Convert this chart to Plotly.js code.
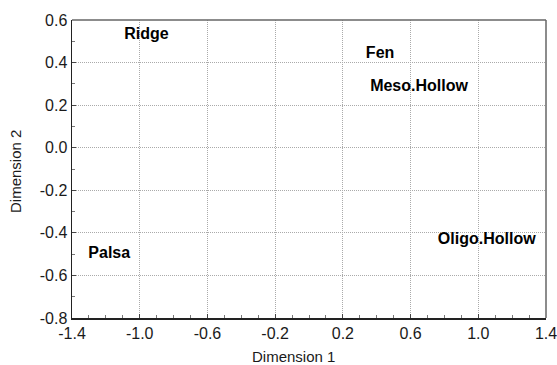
<!DOCTYPE html>
<html>
<head>
<meta charset="utf-8">
<script src="https://cdn.plot.ly/plotly-3.0.1.min.js"></script>
<style>html,body{margin:0;padding:0;background:#fff;}#chart{width:557px;height:365px;}</style>
</head>
<body>
<div id="chart"></div>
<script>
const sites = ["Ridge", "Fen", "Meso.Hollow", "Palsa", "Oligo.Hollow"];
const dim1 = [-0.96, 0.42, 0.65, -1.18, 1.05];
const dim2 = [0.53, 0.44, 0.285, -0.50, -0.435];
const xTicks = [-1.4, -1.0, -0.6, -0.2, 0.2, 0.6, 1.0, 1.4];
const yTicks = [-0.8, -0.6, -0.4, -0.2, 0.0, 0.2, 0.4, 0.6];
const xTitle = "Dimension 1";
const yTitle = "Dimension 2";

const FONT = 'Liberation Sans, Arial, sans-serif';

const trace = {
  x: dim1, y: dim2, text: sites, type: 'scatter', mode: 'text',
  textposition: 'middle center',
  textfont: {family: FONT, size: 16, color: '#000', weight: 'bold'},
  hoverinfo: 'none', cliponaxis: false
};

const axisCommon = {
  showgrid: true, gridcolor: '#aaaaaa', griddash: '1px,1px', gridwidth: 1,
  zeroline: false, showline: true, linecolor: '#222', linewidth: 1.5,
  ticks: 'inside', ticklen: 4, tickcolor: '#444',
  ticklabeloverflow: 'allow',
  tickfont: {family: FONT, size: 16, color: '#1a1a1a'},
  minor: {ticks: 'inside', ticklen: 3, tickcolor: '#777', dtick: 0.1, showgrid: false}
};

const layout = {
  width: 557, height: 365,
  margin: {l: 72, r: 11, t: 20, b: 47},
  paper_bgcolor: '#fff', plot_bgcolor: '#fff',
  showlegend: false,
  xaxis: Object.assign({}, axisCommon, {
    range: [-1.4, 1.4], tickvals: xTicks, ticktext: xTicks.map(v => v.toFixed(1))
  }),
  yaxis: Object.assign({}, axisCommon, {
    range: [-0.8, 0.6], tickvals: yTicks, ticktext: yTicks.map(v => v.toFixed(1))
  }),
  annotations: [
    {text: xTitle, xref: 'paper', yref: 'paper', x: 0.468, y: 0, yshift: -38,
     xanchor: 'center', yanchor: 'middle', showarrow: false,
     font: {family: FONT, size: 15, color: '#1a1a1a'}},
    {text: yTitle, xref: 'paper', yref: 'paper', x: 0, y: 0.49, xshift: -56,
     xanchor: 'center', yanchor: 'middle', textangle: -90, showarrow: false,
     font: {family: FONT, size: 15, color: '#1a1a1a'}}
  ],
  shapes: [
    {type: 'line', xref: 'paper', yref: 'paper', x0: 0, x1: 1, y0: 1, y1: 1, line: {color: '#666', width: 1.5}},
    {type: 'line', xref: 'paper', yref: 'paper', x0: 1, x1: 1, y0: 0, y1: 1, line: {color: '#666', width: 1.5}}
  ]
};

Plotly.newPlot('chart', [trace], layout, {displayModeBar: false, staticPlot: true});
</script>
</body>
</html>
